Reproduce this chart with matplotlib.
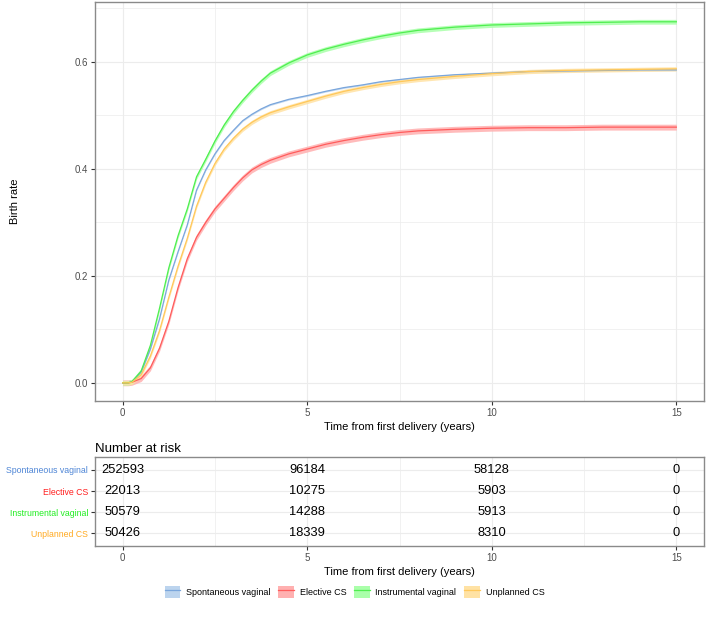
import numpy as np
import matplotlib
matplotlib.use('Agg')
import matplotlib.pyplot as plt
from matplotlib.patches import Patch
from matplotlib.lines import Line2D

plt.rcParams['font.family'] = ['Liberation Sans', 'DejaVu Sans']

# 数据：时间点（年）与各组累计生育率
TIME = [0, 0.15, 0.25, 0.5, 0.75, 1.0, 1.25, 1.5, 1.75, 2.0, 2.25, 2.5, 2.75, 3.0, 3.25, 3.5, 3.75, 4.0,
        4.5, 5, 5.5, 6, 6.5, 7, 7.5, 8, 9, 10, 11, 12, 13, 14, 15]
SPONTANEOUS = [0, 0, 0.002, 0.02, 0.063, 0.12, 0.192, 0.245, 0.295, 0.36, 0.398, 0.428, 0.453, 0.472, 0.49, 0.502, 0.512, 0.52,
               0.53, 0.537, 0.545, 0.552, 0.557, 0.563, 0.567, 0.571, 0.576, 0.579, 0.582, 0.583, 0.584, 0.585, 0.585]
ELECTIVE = [0, 0, 0.001, 0.008, 0.028, 0.065, 0.115, 0.178, 0.232, 0.272, 0.30, 0.325, 0.345, 0.365, 0.383, 0.398, 0.408, 0.416,
            0.428, 0.437, 0.446, 0.453, 0.459, 0.464, 0.468, 0.471, 0.474, 0.476, 0.477, 0.477, 0.478, 0.478, 0.478]
INSTRUMENTAL = [0, 0, 0.002, 0.022, 0.07, 0.14, 0.215, 0.275, 0.325, 0.385, 0.418, 0.452, 0.482, 0.507, 0.528, 0.547, 0.564, 0.579,
                0.598, 0.613, 0.624, 0.633, 0.641, 0.648, 0.654, 0.659, 0.665, 0.669, 0.671, 0.673, 0.674, 0.675, 0.675]
UNPLANNED = [0, 0, 0.001, 0.015, 0.05, 0.098, 0.16, 0.218, 0.27, 0.33, 0.375, 0.41, 0.437, 0.457, 0.474, 0.487, 0.497, 0.505,
             0.516, 0.526, 0.536, 0.545, 0.552, 0.558, 0.563, 0.567, 0.573, 0.578, 0.582, 0.584, 0.585, 0.586, 0.587]
CI_HALF = [0.0015, 0.0055, 0.0045, 0.004]

GROUPS = ['Spontaneous vaginal', 'Elective CS', 'Instrumental vaginal', 'Unplanned CS']

# 风险人数表
RISK_TIMES = [0, 5, 10, 15]
RISK_SPONTANEOUS = [252593, 96184, 58128, 0]
RISK_ELECTIVE = [22013, 10275, 5903, 0]
RISK_INSTRUMENTAL = [50579, 14288, 5913, 0]
RISK_UNPLANNED = [50426, 18339, 8310, 0]

LINE_COLORS = ['#7aa6dc', '#ff5c5c', '#4fee4f', '#ffc85a']
FILL_COLORS = ['#bcd4ee', '#ffb0b0', '#aaffaa', '#ffe2a4']
LABEL_COLORS = ['#4f86d6', '#ff1f1f', '#22ee22', '#ffaa22']

curves = [SPONTANEOUS, ELECTIVE, INSTRUMENTAL, UNPLANNED]
risks = [RISK_SPONTANEOUS, RISK_ELECTIVE, RISK_INSTRUMENTAL, RISK_UNPLANNED]

fig = plt.figure(figsize=(7.09, 6.22), dpi=100)
ax = fig.add_axes([0.134, 0.3553, 0.859, 0.6415])
ax_t = fig.add_axes([0.134, 0.1222, 0.859, 0.1426])

border = '#8a8a8a'
grid_c = '#ececec'
tick_c = '#4d4d4d'


def style_panel(a):
    for s in a.spines.values():
        s.set_color(border)
        s.set_linewidth(1.0)
    a.tick_params(length=3, width=0.8, color='#333333', labelsize=7, labelcolor=tick_c, pad=2)
    a.set_axisbelow(True)
    a.set_xlim(-0.75, 15.75)
    a.set_xticks([0, 5, 10, 15])
    a.set_xticks([2.5, 7.5, 12.5], minor=True)
    a.tick_params(which='minor', length=0)
    a.grid(True, which='major', color=grid_c, linewidth=0.8)
    a.grid(True, which='minor', color=grid_c, linewidth=0.5)


# 1. 主图：累计生育率曲线
t = np.array(TIME)
for i, vals in enumerate(curves):
    v = np.array(vals)
    ax.fill_between(t, v - CI_HALF[i], v + CI_HALF[i], color=FILL_COLORS[i], alpha=0.85, linewidth=0)
    ax.plot(t, v, color=LINE_COLORS[i], linewidth=0.9, solid_joinstyle='round')

style_panel(ax)
ax.set_ylim(-0.034, 0.712)
ax.set_yticks([0.0, 0.2, 0.4, 0.6])
ax.set_yticks([0.1, 0.3, 0.5, 0.7], minor=True)
ax.set_yticklabels(['0.0', '0.2', '0.4', '0.6'])
ax.set_xlabel('Time from first delivery (years)', fontsize=8, labelpad=3)
ax.set_ylabel('Birth rate', fontsize=8, labelpad=39)

# 2. 风险人数表
style_panel(ax_t)
n = len(GROUPS)
ax_t.set_ylim(n + 0.6 - 1, -0.6)
ax_t.set_yticks(range(n))
ax_t.set_yticklabels(GROUPS, fontsize=6.3)
for lbl, c in zip(ax_t.get_yticklabels(), LABEL_COLORS):
    lbl.set_color(c)
for i, row in enumerate(risks):
    for x, val in zip(RISK_TIMES, row):
        ax_t.text(x, i, str(val), ha='center', va='center', fontsize=9.3, color='black')
ax_t.set_xlabel('Time from first delivery (years)', fontsize=8, labelpad=3)
ax_t.set_title('Number at risk', loc='left', fontsize=9.5, pad=4)

# 3. 图例
handles = [(Patch(facecolor=FILL_COLORS[i], edgecolor='none'), Line2D([], [], color=LINE_COLORS[i], linewidth=0.9))
           for i in range(n)]
fig.legend(handles=handles, labels=GROUPS, ncol=4, loc='center', bbox_to_anchor=(0.5, 0.048),
           frameon=False, fontsize=6.5, handlelength=1.75, handleheight=1.75, handletextpad=0.6,
           columnspacing=0.9)

plt.savefig('out.png', dpi=100)
